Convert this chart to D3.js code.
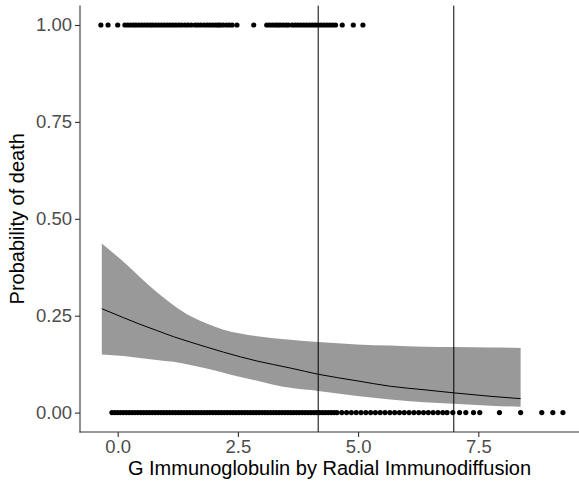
<!DOCTYPE html>
<html>
<head>
<meta charset="utf-8">
<script src="https://cdn.jsdelivr.net/npm/d3@7"></script>
<style>
  html, body { margin: 0; padding: 0; background: #ffffff; }
  svg { display: block; }
</style>
</head>
<body>
<svg id="chart" width="579" height="486"></svg>
<script>
// ---- data ----
const deadX = [-0.35, -0.20, 0.00,
  0.15, 0.21, 0.27, 0.33, 0.38, 0.44, 0.50, 0.56, 0.62, 0.68, 0.73, 0.79, 0.85, 0.91, 0.97, 1.03, 1.09, 1.15, 1.21, 1.27, 1.33, 1.40, 1.46, 1.53,
  1.61, 1.67, 1.73, 1.80, 1.86, 1.92, 1.98, 2.04, 2.09,
  2.13, 2.19, 2.26, 2.32, 2.38, 2.48,
  2.83,
  3.10, 3.16, 3.22, 3.28, 3.33, 3.38, 3.44, 3.50, 3.55,
  3.63, 3.69, 3.75, 3.81, 3.87, 3.93, 3.99, 4.05, 4.11, 4.17, 4.23, 4.29, 4.35, 4.41, 4.47, 4.53,
  4.67, 4.90, 5.10];

const aliveX = [-0.12, -0.06, 0.00, 0.06, 0.12, 0.18, 0.24, 0.30, 0.36, 0.42, 0.48, 0.54, 0.60, 0.66, 0.72, 0.78, 0.84, 0.90, 0.96,
  1.02, 1.08, 1.14, 1.20, 1.26, 1.32, 1.38, 1.44, 1.50, 1.56, 1.62, 1.68, 1.74, 1.80, 1.86, 1.92, 1.98,
  2.04, 2.10, 2.16, 2.22, 2.28, 2.34, 2.40, 2.46, 2.52, 2.58, 2.64, 2.70, 2.76, 2.82, 2.88, 2.94,
  3.00, 3.06, 3.12, 3.18, 3.24, 3.30, 3.36, 3.42, 3.48, 3.54, 3.60, 3.66, 3.72, 3.78, 3.84, 3.90, 3.96,
  4.02, 4.08, 4.14, 4.20, 4.26, 4.32, 4.38, 4.44, 4.50, 4.56,
  4.66, 4.76, 4.86, 4.96, 5.06, 5.16, 5.26, 5.36, 5.46, 5.56, 5.66, 5.76, 5.86, 5.96,
  6.06, 6.16, 6.26, 6.36, 6.46, 6.56, 6.66, 6.76,
  6.85, 6.97, 7.11, 7.24, 7.40, 7.53, 7.94, 8.38, 8.82, 9.05, 9.26];

const smoothX     = [-0.33, 0.12, 0.46, 0.81, 1.16, 1.51, 1.85, 2.20, 2.55, 2.90, 3.24, 3.59, 4.17, 4.98, 5.67, 6.37, 6.99, 7.76, 8.38];
const smoothFit   = [0.268, 0.245, 0.228, 0.212, 0.196, 0.182, 0.169, 0.156, 0.144, 0.133, 0.124, 0.115, 0.099, 0.082, 0.068, 0.059, 0.051, 0.042, 0.036];
const smoothUpper = [0.436, 0.389, 0.350, 0.311, 0.277, 0.249, 0.230, 0.214, 0.204, 0.197, 0.192, 0.188, 0.182, 0.176, 0.173, 0.170, 0.169, 0.168, 0.167];
const smoothLower = [0.150, 0.146, 0.141, 0.136, 0.131, 0.123, 0.114, 0.103, 0.092, 0.082, 0.072, 0.064, 0.056, 0.043, 0.034, 0.027, 0.023, 0.018, 0.015];

const vlineX = [4.17, 6.99];

const xTicks = [0, 2.5, 5, 7.5];
const yTicks = [0, 0.25, 0.5, 0.75, 1];
const xTitle = "G Immunoglobulin by Radial Immunodiffusion";
const yTitle = "Probability of death";

// ---- layout ----
const svg = d3.select("#chart");
const mLeft = 80, mRight = 579, mTop = 5.6, mBottom = 432;

const x = d3.scaleLinear().domain([-0.784, 9.594]).range([mLeft, mRight]);
const y = d3.scaleLinear().domain([-0.05, 1.05]).range([mBottom, mTop]);

const smooth = smoothX.map((v, i) => ({x: v, fit: smoothFit[i], lo: smoothLower[i], hi: smoothUpper[i]}));

// points
const pts = deadX.map(v => ({x: v, y: 1})).concat(aliveX.map(v => ({x: v, y: 0})));
svg.append("g").selectAll("circle").data(pts).join("circle")
  .attr("cx", d => x(d.x)).attr("cy", d => y(d.y)).attr("r", 2.6)
  .attr("fill", "#000");

// ribbon
svg.append("path").datum(smooth)
  .attr("fill", "#999999")
  .attr("d", d3.area().x(d => x(d.x)).y0(d => y(d.lo)).y1(d => y(d.hi)).curve(d3.curveMonotoneX));

// fit line
svg.append("path").datum(smooth)
  .attr("fill", "none").attr("stroke", "#000").attr("stroke-width", 1)
  .attr("d", d3.line().x(d => x(d.x)).y(d => y(d.fit)).curve(d3.curveMonotoneX));

// vertical lines
svg.append("g").selectAll("line").data(vlineX).join("line")
  .attr("x1", d => x(d)).attr("x2", d => x(d))
  .attr("y1", mTop).attr("y2", mBottom)
  .attr("stroke", "#000").attr("stroke-width", 1);

// axes
const font = "'Liberation Sans', Arial, sans-serif";
const gx = svg.append("g").attr("transform", `translate(0,${mBottom})`)
  .call(d3.axisBottom(x).tickValues(xTicks).tickFormat(d3.format(".1f")).tickSizeOuter(0).tickSize(5).tickPadding(3));
const gy = svg.append("g").attr("transform", `translate(${mLeft},0)`)
  .call(d3.axisLeft(y).tickValues(yTicks).tickFormat(d3.format(".2f")).tickSizeOuter(0).tickSize(5).tickPadding(3));

[gx, gy].forEach(g => {
  g.select(".domain").remove();
  g.selectAll(".tick line").attr("stroke", "#333333").attr("stroke-width", 1.1);
  g.selectAll(".tick text").attr("fill", "#4d4d4d").style("font-family", font).style("font-size", "18.5px");
});

// axis lines
svg.append("line").attr("x1", mLeft - 0.5).attr("x2", mRight).attr("y1", mBottom).attr("y2", mBottom)
  .attr("stroke", "#333333").attr("stroke-width", 1.1);
svg.append("line").attr("x1", mLeft).attr("x2", mLeft).attr("y1", mTop).attr("y2", mBottom + 0.5)
  .attr("stroke", "#333333").attr("stroke-width", 1.1);

// titles
svg.append("text").attr("x", (mLeft + mRight) / 2).attr("y", 475)
  .attr("text-anchor", "middle").style("font-family", font).style("font-size", "20px").attr("fill", "#000")
  .text(xTitle);
svg.append("text").attr("transform", `translate(24,${(mTop + mBottom) / 2}) rotate(-90)`)
  .attr("text-anchor", "middle").style("font-family", font).style("font-size", "20px").attr("fill", "#000")
  .text(yTitle);
</script>
</body>
</html>
